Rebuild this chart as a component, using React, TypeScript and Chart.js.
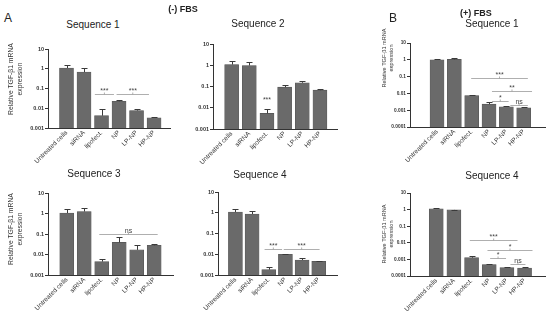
import React, { useEffect, useRef } from 'react';
import { Chart, registerables } from 'chart.js';
Chart.register(...registerables);

const FONT = "'Liberation Sans', Arial, Helvetica, sans-serif";

const categories = ['Untreated cells', 'siRNA', 'lipofect.', 'NP', 'LP-NP', 'HP-NP'];

// (-) FBS
const seq1Minus = [1.08, 0.68, 0.0042, 0.0226, 0.0076, 0.0033];
const seq1MinusErr = [1.58, 1.08, 0.0092, 0.026, 0.0092, 0.0036];
const seq2Minus = [1.08, 0.97, 0.0054, 0.093, 0.15, 0.067];
const seq2MinusErr = [1.6, 1.45, 0.0089, 0.12, 0.19, 0.078];
const seq3Minus = [1.05, 1.25, 0.0045, 0.039, 0.0168, 0.028];
const seq3MinusErr = [1.6, 1.8, 0.0059, 0.074, 0.028, 0.034];
const seq4Minus = [1.08, 0.87, 0.0018, 0.01, 0.0053, 0.0045];
const seq4MinusErr = [1.6, 1.15, 0.0023, 0.0107, 0.0069, 0.0049];
// (+) FBS
const seq1Plus = [1.0, 1.05, 0.0075, 0.0023, 0.0016, 0.0014];
const seq1PlusErr = [1.15, 1.25, 0.0085, 0.0029, 0.0018, 0.0015];
const seq4Plus = [1.1, 0.96, 0.00127, 0.00049, 0.00032, 0.0003];
const seq4PlusErr = [1.2, 1.0, 0.0016, 0.00055, 0.00035, 0.00033];

const ticksMinus = [0.001, 0.01, 0.1, 1, 10];
const ticksPlus = [0.0001, 0.001, 0.01, 0.1, 1, 10];

// significance brackets: [from category, to category, height value, label]
const sig1Minus: [number, number, number, string][] = [[1.62, 2.71, 0.05, '***'], [2.86, 4.71, 0.05, '***']];
const sig2Minus: [number, number, number, string][] = [[2, 2, 0.016, '***']];
const sig3Minus: [number, number, number, string][] = [[1.86, 5.2, 0.1, 'ns']];
const sig4Minus: [number, number, number, string][] = [[1.75, 2.8, 0.0175, '***'], [2.9, 5.05, 0.0175, '***']];
const sig1Plus: [number, number, number, string][] = [[1.97, 5.24, 0.08, '***'], [3.17, 5.48, 0.013, '**'], [3.17, 4.13, 0.0036, '*'], [4.23, 5.24, 0.0021, 'ns']];
const sig4Plus: [number, number, number, string][] = [[1.9, 4.6, 0.015, '***'], [2.9, 5.45, 0.0038, '*'], [3.05, 3.95, 0.0013, '*'], [4.2, 5.05, 0.00056, 'ns']];

const yTitle = ['Relative TGF-\u03B21 mRNA', 'expression'];

type PanelDef = {
  x: number; y: number; w: number; h: number;
  padTop: number; padRight: number; yWidth: number; xHeight: number;
  xMin: number; xMax: number; yMin: number; yTicks: number[];
  values: number[]; errors: number[]; sig: [number, number, number, string][];
  tickFont: number;
};

const panels: PanelDef[] = [
  { x: 0, y: 30, w: 185, h: 150, padTop: 19, padRight: 15, yWidth: 48, xHeight: 52, xMin: -0.476, xMax: 5.33, yMin: 0.001, yTicks: ticksMinus, values: seq1Minus, errors: seq1MinusErr, sig: sig1Minus, tickFont: 5.5 },
  { x: 165, y: 30, w: 185, h: 150, padTop: 14, padRight: 13, yWidth: 48, xHeight: 51, xMin: -0.47, xMax: 5.38, yMin: 0.001, yTicks: ticksMinus, values: seq2Minus, errors: seq2MinusErr, sig: sig2Minus, tickFont: 5.5 },
  { x: 0, y: 180, w: 185, h: 142, padTop: 13, padRight: 12, yWidth: 48, xHeight: 47, xMin: -0.476, xMax: 5.48, yMin: 0.001, yTicks: ticksMinus, values: seq3Minus, errors: seq3MinusErr, sig: sig3Minus, tickFont: 5.5 },
  { x: 170, y: 180, w: 185, h: 142, padTop: 12, padRight: 18, yWidth: 48, xHeight: 47, xMin: -0.45, xMax: 5.5, yMin: 0.001, yTicks: ticksMinus, values: seq4Minus, errors: seq4MinusErr, sig: sig4Minus, tickFont: 5.5 },
  { x: 375, y: 30, w: 175, h: 150, padTop: 13, padRight: 5, yWidth: 35, xHeight: 53, xMin: -0.91, xMax: 5.58, yMin: 0.0001, yTicks: ticksPlus, values: seq1Plus, errors: seq1PlusErr, sig: sig1Plus, tickFont: 4.8 },
  { x: 375, y: 180, w: 175, h: 142, padTop: 13, padRight: 5, yWidth: 35, xHeight: 46, xMin: -0.85, xMax: 5.52, yMin: 0.0001, yTicks: ticksPlus, values: seq4Plus, errors: seq4PlusErr, sig: sig4Plus, tickFont: 4.8 },
];

function Panel({ p }: { p: PanelDef }) {
  const ref = useRef<HTMLCanvasElement>(null);
  useEffect(() => {
    const canvas = ref.current!;
    const overlay = {
      id: 'overlay',
      afterDatasetsDraw(chart: any) {
        const ctx = chart.ctx;
        const xs = chart.scales.x;
        const ys = chart.scales.y;
        const meta = chart.getDatasetMeta(0);
        ctx.save();
        ctx.strokeStyle = '#3a3a3a';
        ctx.lineWidth = 1;
        p.errors.forEach((e, i) => {
          const el = meta.data[i];
          const x = Math.round(el.x) + 0.5;
          const yTop = el.y;
          const yE = Math.round(ys.getPixelForValue(e)) + 0.5;
          ctx.beginPath();
          ctx.moveTo(x, yTop);
          ctx.lineTo(x, yE);
          ctx.moveTo(x - 3, yE);
          ctx.lineTo(x + 3, yE);
          ctx.stroke();
        });
        p.sig.forEach(([a, b, v, label]) => {
          const xa = xs.getPixelForValue(a);
          const xb = xs.getPixelForValue(b);
          const y = Math.round(ys.getPixelForValue(v)) + 0.5;
          const mid = (xa + xb) / 2;
          if (b !== a) {
            ctx.strokeStyle = '#9a9a9a';
            ctx.lineWidth = 0.8;
            ctx.beginPath();
            ctx.moveTo(xa, y);
            ctx.lineTo(xb, y);
            ctx.moveTo(mid, y);
            ctx.lineTo(mid, y - 2);
            ctx.stroke();
          }
          ctx.fillStyle = '#444';
          ctx.font = `7px ${FONT}`;
          ctx.textAlign = 'center';
          ctx.textBaseline = 'alphabetic';
          ctx.fillText(label, mid, y - 1.5);
        });
        ctx.restore();
      },
    };
    const chart = new Chart(canvas, {
      type: 'bar',
      data: {
        datasets: [{
          data: p.values.map((v, i) => ({ x: i, y: v })),
          backgroundColor: '#6a6a6a',
          borderColor: '#555',
          borderWidth: 0.6,
          barThickness: 14,
        }],
      },
      options: {
        responsive: false,
        animation: false,
        devicePixelRatio: 1,
        layout: { padding: { top: p.padTop, right: p.padRight, left: 0, bottom: 0 } },
        plugins: { legend: { display: false }, tooltip: { enabled: false }, title: { display: false } },
        scales: {
          x: {
            type: 'linear',
            min: p.xMin,
            max: p.xMax,
            afterBuildTicks: (s: any) => { s.ticks = categories.map((_, i) => ({ value: i })); },
            afterFit: (s: any) => { s.height = p.xHeight; },
            ticks: {
              callback: (v: any) => categories[v as number],
              autoSkip: false,
              maxRotation: 45,
              minRotation: 45,
              font: { size: 6.5, family: FONT },
              color: '#333',
              padding: 1,
            },
            grid: { display: false, drawTicks: false },
            border: { display: true, color: '#333', width: 1 },
          },
          y: {
            type: 'logarithmic',
            min: p.yMin,
            max: 10,
            afterBuildTicks: (s: any) => { s.ticks = p.yTicks.map((v) => ({ value: v })); },
            afterFit: (s: any) => { s.width = p.yWidth; },
            ticks: {
              callback: (v: any) => String(v),
              autoSkip: false,
              font: { size: p.tickFont, weight: 'bold', family: FONT },
              color: '#333',
              padding: 1,
            },
            grid: { display: true, drawOnChartArea: false, drawTicks: true, tickLength: 3, color: '#333', lineWidth: 1 },
            border: { display: true, color: '#333', width: 1 },
          },
        },
      } as any,
      plugins: [overlay],
    });
    return () => chart.destroy();
  }, []);
  return (
    <canvas
      ref={ref}
      width={p.w}
      height={p.h}
      style={{ position: 'absolute', left: p.x, top: p.y, width: p.w, height: p.h }}
    />
  );
}

const labels: { t: string; x: number; y: number; size: number; bold?: boolean }[] = [
  { t: 'A', x: 8, y: 18, size: 12 },
  { t: '(-) FBS', x: 183, y: 9, size: 9, bold: true },
  { t: 'B', x: 393, y: 18, size: 12 },
  { t: '(+) FBS', x: 476, y: 13, size: 9, bold: true },
  { t: 'Sequence 1', x: 93, y: 25, size: 10 },
  { t: 'Sequence 2', x: 258, y: 24, size: 10 },
  { t: 'Sequence 1', x: 492, y: 24, size: 10 },
  { t: 'Sequence 3', x: 94, y: 174, size: 10 },
  { t: 'Sequence 4', x: 260, y: 175, size: 10 },
  { t: 'Sequence 4', x: 492, y: 176, size: 10 },
];

const yTitles: { x: number; y: number; size: number; lh: number }[] = [
  { x: 14.5, y: 79, size: 6.8, lh: 9 },
  { x: 14.5, y: 229, size: 6.8, lh: 9 },
  { x: 388, y: 58, size: 5.6, lh: 7 },
  { x: 388, y: 234, size: 5.6, lh: 7 },
];

export default function App() {
  return (
    <div style={{ position: 'absolute', left: 0, top: 0, width: 550, height: 322, background: '#fff', overflow: 'hidden', fontFamily: FONT }}>
      {panels.map((p, i) => <Panel key={i} p={p} />)}
      {labels.map((l, i) => (
        <div
          key={'l' + i}
          style={{
            position: 'absolute',
            left: l.x,
            top: l.y,
            transform: 'translate(-50%, -50%)',
            fontSize: l.size,
            fontWeight: l.bold ? 'bold' : 'normal',
            color: '#222',
            whiteSpace: 'nowrap',
            lineHeight: 1,
          }}
        >
          {l.t}
        </div>
      ))}
      {yTitles.map((t, i) => (
        <div
          key={'y' + i}
          style={{
            position: 'absolute',
            left: t.x,
            top: t.y,
            transform: 'translate(-50%, -50%) rotate(-90deg)',
            fontSize: t.size,
            lineHeight: t.lh + 'px',
            color: '#333',
            whiteSpace: 'nowrap',
            textAlign: 'center',
          }}
        >
          <div>{yTitle[0]}</div>
          <div>{yTitle[1]}</div>
        </div>
      ))}
    </div>
  );
}
